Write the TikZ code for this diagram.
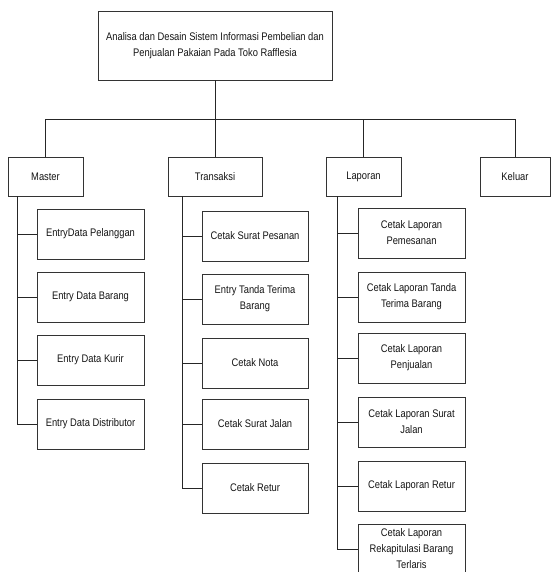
\documentclass[tikz,border=0pt]{standalone}
\usepackage{fontspec}
\setmainfont{Liberation Sans}[FakeStretch=0.85]
\usetikzlibrary{calc}
\begin{document}
\begin{tikzpicture}[x=1pt,y=-1pt,
  box/.style={draw=black!80, line width=0.9pt, align=center, inner sep=2pt,
    font=\fontsize{11}{16}\selectfont, text=black!92},
  head/.style={box, minimum height=39pt},
  leaf/.style={box, minimum width=107pt, minimum height=50pt},
  wire/.style={draw=black!85, line width=0.8pt}]
\useasboundingbox (0,0) rectangle (551,572);

% root
\node[box, minimum width=234pt, minimum height=69pt] (root) at (215,45.5)
  {Analisa dan Desain Sistem Informasi Pembelian dan\\Penjualan Pakaian Pada Toko Rafflesia};

% menu heads
\node[head, minimum width=75pt] (master) at (45.5,176.5) {Master};
\node[head, minimum width=94pt] (transaksi) at (215,176.5) {Transaksi};
\node[head, minimum width=75pt] (laporan) at (363.5,176.5) {Laporan};
\node[head, minimum width=70pt] (keluar) at (515,176.5) {Keluar};

% master items
\node[leaf] (m1) at (90.5,234) {EntryData Pelanggan};
\node[leaf] (m2) at (90.5,297) {Entry Data Barang};
\node[leaf] (m3) at (90.5,360) {Entry Data Kurir};
\node[leaf] (m4) at (90.5,424) {Entry Data Distributor};

% transaksi items
\node[leaf, minimum width=106pt] (t1) at (255,236) {Cetak Surat Pesanan};
\node[leaf, minimum width=106pt] (t2) at (255,299) {Entry Tanda Terima\\Barang};
\node[leaf, minimum width=106pt] (t3) at (255,363) {Cetak Nota};
\node[leaf, minimum width=106pt] (t4) at (255,424) {Cetak Surat Jalan};
\node[leaf, minimum width=106pt] (t5) at (255,488) {Cetak Retur};

% laporan items
\node[leaf] (l1) at (411.5,233) {Cetak Laporan\\Pemesanan};
\node[leaf] (l2) at (411.5,297) {Cetak Laporan Tanda\\Terima Barang};
\node[leaf] (l3) at (411.5,358) {Cetak Laporan\\Penjualan};
\node[leaf] (l4) at (411.5,422) {Cetak Laporan Surat\\Jalan};
\node[leaf] (l5) at (411.5,486) {Cetak Laporan Retur};
\node[leaf] (l6) at (411.5,549) {Cetak Laporan\\Rekapitulasi Barang\\Terlaris};

% bus under the root
\coordinate (bus) at (215,119);
\draw[wire] (root.south) -- (bus);
\draw[wire] (master.north) -- (master.north |- bus) -- (keluar.north |- bus) -- (keluar.north);
\draw[wire] (transaksi.north) -- (transaksi.north |- bus);
\draw[wire] (laporan.north) -- (laporan.north |- bus);

% trunks
\coordinate (mt) at ($(master.south west)+(10,0)$);
\coordinate (tt) at ($(transaksi.south west)+(15,0)$);
\coordinate (lt) at ($(laporan.south west)+(12,0)$);

\draw[wire] (mt) |- (m4.west);
\foreach \n in {m1,m2,m3} \draw[wire] (mt |- \n.west) -- (\n.west);

\draw[wire] (tt) |- (t5.west);
\foreach \n in {t1,t2,t3,t4} \draw[wire] (tt |- \n.west) -- (\n.west);

\draw[wire] (lt) |- (l6.west);
\foreach \n in {l1,l2,l3,l4,l5} \draw[wire] (lt |- \n.west) -- (\n.west);
\end{tikzpicture}
\end{document}
